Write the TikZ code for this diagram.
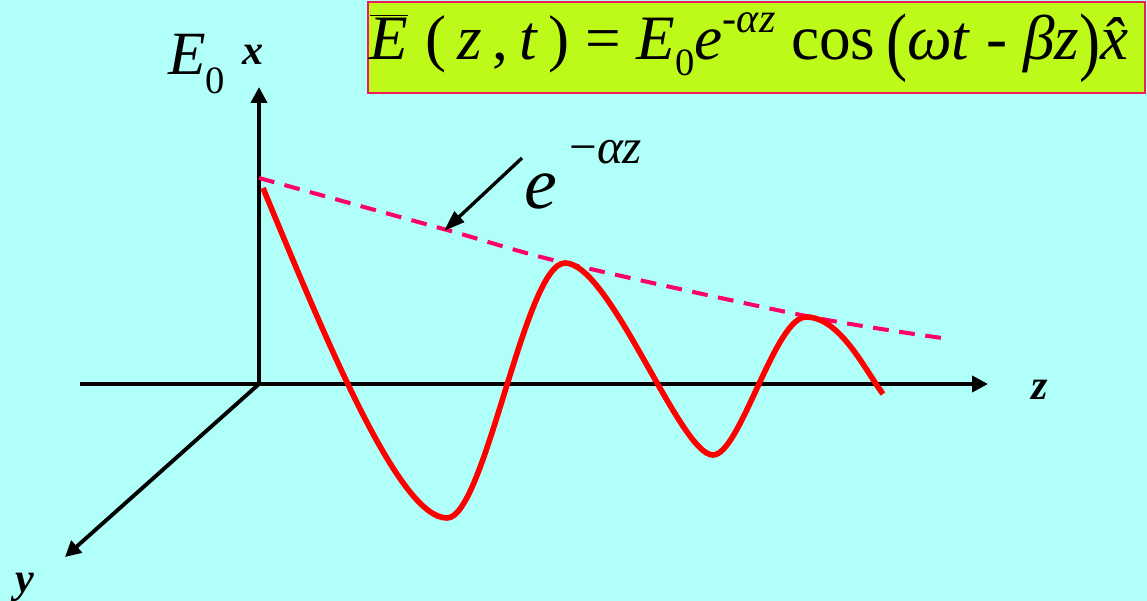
\documentclass[tikz,border=0pt]{standalone}
\usepackage{fontspec}
\setmainfont{Liberation Serif}
\usepackage{tikz}
\usetikzlibrary{arrows.meta,positioning,calc}

\definecolor{bgcyan}{RGB}{176,255,248}
\definecolor{boxgreen}{RGB}{190,250,25}
\definecolor{boxrim}{RGB}{235,30,90}
\definecolor{envpink}{RGB}{255,0,102}

\begin{document}
\begin{tikzpicture}[x=0.02cm, y=-0.02cm,
  axis/.style={line width=2.2pt, -{Triangle[length=9pt,width=9pt]}},
  axlabel/.style={font=\fontsize{24}{28}\selectfont\bfseries\itshape},
  wave/.style={red, line width=3.2pt},
  envelope/.style={envpink, line width=2.3pt, dash pattern=on 9pt off 6pt},
  pointer/.style={line width=1.9pt, -{Triangle[length=12pt,width=8pt]}},
  formula/.style={draw=boxrim, fill=boxgreen, line width=1.2pt, inner sep=0pt,
    minimum width=15.54cm, minimum height=1.82cm}]
  \fill[bgcyan] (0,0) rectangle (1147,601);
  \useasboundingbox (0,0) rectangle (1147,601);
  % field formula
  \node[formula] (formula) at (756.5,47.5) {};
  \node[inner sep=0pt] (formtext) at (761,48) {\fontsize{36}{44}\selectfont
    $\overline{\hbox{\itshape E}}$\;(\,\textit{z}\,,\,\textit{t}\,) = \textit{E}\raisebox{-0.25em}{\fontsize{22}{26}\selectfont 0}\textit{e}\raisebox{0.42em}{\fontsize{24}{28}\selectfont -\textit{αz}} cos\,\raisebox{-0.12em}{\scalebox{1}[1.2]{(}}\textit{ωt} - \textit{βz}\raisebox{-0.12em}{\scalebox{1}[1.2]{)}}\textit{\^x}};
  % axes
  \coordinate (O) at (259,384);
  \coordinate (xtip) at (259,87);
  \coordinate (zback) at (80,384);
  \coordinate (ztip) at (988,384);
  \coordinate (ytip) at (65,557);
  \draw[axis] (O) -- (xtip);
  \draw[axis] (zback) -- (ztip);
  \draw[axis] (O) -- (ytip);
  \node[axlabel] (xlab) at (253,55) {x};
  \node[axlabel] (zlab) at (1040,390) {z};
  \node[axlabel] (ylab) at (25,587) {y};
  \node[anchor=base west, inner sep=0pt] (Ezero) at (168,75)
    {\fontsize{35}{40}\selectfont\textit{E}\raisebox{-0.3em}{\fontsize{22}{26}\selectfont 0}};
  % envelope and decaying wave
  \draw[envelope] plot[smooth] coordinates {(259,178) (447,230) (565,263) (806,316) (942,338)};
  \draw[wave] (263,188) .. controls (330,350) and (400,518) .. (447,518)
    .. controls (485,518) and (525,263) .. (565,263)
    .. controls (610,263) and (680,455) .. (713,455)
    .. controls (740,455) and (775,317) .. (806,317)
    .. controls (840,317) and (865,370) .. (883,394);
  % label of the envelope
  \node[anchor=base west, inner sep=0pt] (elab) at (524,209)
    {\fontsize{42}{48}\selectfont\textit{e}\,\raisebox{0.62em}{\fontsize{28}{32}\selectfont −\textit{αz}}};
  \coordinate (etail) at (522,158);
  \coordinate (ehead) at (444,231);
  \draw[pointer] (etail) -- (ehead);
\end{tikzpicture}
\end{document}
